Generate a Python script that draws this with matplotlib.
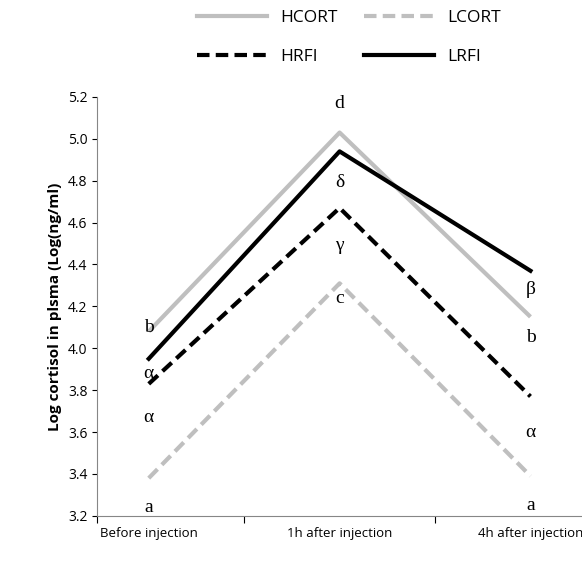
import matplotlib
matplotlib.use("Agg")
import matplotlib.pyplot as plt
from matplotlib.lines import Line2D

categories = ["Before injection", "1h after injection", "4h after injection"]
hcort = [4.08, 5.03, 4.15]
lcort = [3.38, 4.31, 3.39]
hrfi = [3.83, 4.67, 3.77]
lrfi = [3.95, 4.94, 4.37]
letters = [(0, 4.10, "b"), (0, 3.88, "α"), (0, 3.67, "α"), (0, 3.24, "a"),
           (1, 5.17, "d"), (1, 4.79, "δ"), (1, 4.49, "γ"), (1, 4.24, "c"),
           (2, 4.28, "β"), (2, 4.05, "b"), (2, 3.60, "α"), (2, 3.25, "a")]

plt.rcParams['font.family'] = ['Open Sans', 'DejaVu Sans']
fig = plt.figure(figsize=(5.82, 5.77), dpi=100)
ax = fig.add_axes([0.167, 0.106, 0.833, 0.726])
x = range(3)
ax.plot(x, hcort, color="#BFBFBF", lw=3, solid_capstyle="butt")
ax.plot(x, lcort, color="#BFBFBF", lw=3, ls=(0, (3, 1.5)))
ax.plot(x, hrfi, color="black", lw=3, ls=(0, (3, 1.5)))
ax.plot(x, lrfi, color="black", lw=3)
for xi, yi, t in letters:
    ax.text(xi, yi, t, ha="center", va="center",
            fontsize=14, family="Liberation Serif")
ax.set_xlim(-0.27, 2.27)
ax.set_ylim(3.2, 5.2)
ax.set_yticks([3.2 + 0.2 * i for i in range(11)])
ax.set_yticklabels([f"{3.2 + 0.2 * i:.1f}" for i in range(11)], fontsize=10)
ax.set_xticks([-0.27, 0.5, 1.5])
ax.set_xticklabels([])
ax.tick_params(axis="x", length=5, direction="out")
ax.set_xticks(list(x), minor=True)
ax.set_xticklabels(categories, minor=True, fontsize=9.5)
ax.tick_params(axis="x", which="minor", length=0, pad=8)
for s in ["top", "right"]:
    ax.spines[s].set_visible(False)
ax.spines["left"].set_color("#868686")
ax.spines["bottom"].set_color("#868686")
ax.set_ylabel("Log cortisol in plsma (Log(ng/ml)", fontsize=11, fontweight="bold")
handles = [Line2D([], [], color="#BFBFBF", lw=3),
           Line2D([], [], color="black", lw=3, ls=(0, (3, 1.5))),
           Line2D([], [], color="#BFBFBF", lw=3, ls=(0, (3, 1.5))),
           Line2D([], [], color="black", lw=3)]
fig.legend(handles, ["HCORT", "HRFI", "LCORT", "LRFI"], ncol=2, frameon=False,
           loc="upper center", bbox_to_anchor=(0.6, 1.01), fontsize=12.5,
           handlelength=4, columnspacing=1.5, labelspacing=1.3)
fig.savefig("out.png")
